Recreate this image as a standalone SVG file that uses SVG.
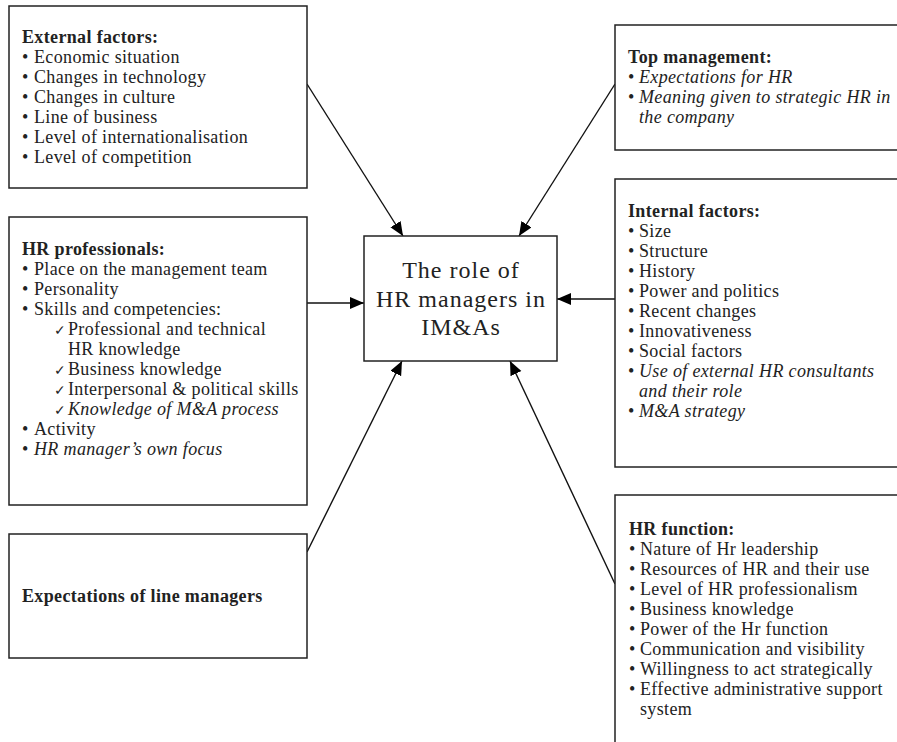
<svg xmlns="http://www.w3.org/2000/svg" width="897" height="742" viewBox="0 0 897 742">
<style>
.box{fill:#fff;stroke:#222;stroke-width:1.5}
.t{font-family:"Liberation Serif","Times New Roman",serif;font-size:18px;fill:#222;letter-spacing:0.35px}
.b{font-weight:bold}
.i{font-style:italic}
.ck{font-size:14px;letter-spacing:0}
.c{font-family:"Liberation Serif","Times New Roman",serif;font-size:24px;fill:#222;letter-spacing:1px;text-anchor:middle}
.ln{stroke:#111;stroke-width:1.4;fill:none;marker-end:url(#ah)}
</style>
<defs>
<marker id="ah" markerUnits="userSpaceOnUse" markerWidth="15" markerHeight="13" refX="14" refY="6" orient="auto">
<path d="M0,0 L14,6 L0,12 z" fill="#000"/>
</marker>
</defs>
<rect width="897" height="742" fill="#fff"/>
<g id="connectors">
<line class="ln" x1="307" y1="84" x2="403" y2="236"/>
<line class="ln" x1="615" y1="84" x2="519" y2="236"/>
<line class="ln" x1="307" y1="303" x2="364" y2="303"/>
<line class="ln" x1="615" y1="299" x2="557" y2="299"/>
<line class="ln" x1="307" y1="552" x2="402" y2="361"/>
<line class="ln" x1="615" y1="584" x2="510" y2="361"/>
</g>
<g id="external">
<rect class="box" x="9" y="6" width="298" height="182"/>
<text class="t b" x="22" y="43">External factors:</text>
<text class="t" y="63"><tspan x="22">•</tspan><tspan x="34">Economic situation</tspan></text>
<text class="t" y="83"><tspan x="22">•</tspan><tspan x="34">Changes in technology</tspan></text>
<text class="t" y="103"><tspan x="22">•</tspan><tspan x="34">Changes in culture</tspan></text>
<text class="t" y="123"><tspan x="22">•</tspan><tspan x="34">Line of business</tspan></text>
<text class="t" y="143"><tspan x="22">•</tspan><tspan x="34">Level of internationalisation</tspan></text>
<text class="t" y="163"><tspan x="22">•</tspan><tspan x="34">Level of competition</tspan></text>
</g>
<g id="top-management">
<rect class="box" x="615" y="25" width="300" height="125"/>
<text class="t b" x="628" y="63">Top management:</text>
<text class="t" y="83"><tspan x="628">•</tspan><tspan x="639" class="i">Expectations for HR</tspan></text>
<text class="t" y="103"><tspan x="628">•</tspan><tspan x="639" class="i">Meaning given to strategic HR in</tspan></text>
<text class="t i" x="639" y="123">the company</text>
</g>
<g id="hr-professionals">
<rect class="box" x="9" y="217" width="298" height="288"/>
<text class="t b" x="22" y="255">HR professionals:</text>
<text class="t" y="275"><tspan x="22">•</tspan><tspan x="34">Place on the management team</tspan></text>
<text class="t" y="295"><tspan x="22">•</tspan><tspan x="34">Personality</tspan></text>
<text class="t" y="315"><tspan x="22">•</tspan><tspan x="34">Skills and competencies:</tspan></text>
<text class="t" y="335"><tspan x="54" class="ck">✓</tspan><tspan x="68">Professional and technical</tspan></text>
<text class="t" x="68" y="355">HR knowledge</text>
<text class="t" y="375"><tspan x="54" class="ck">✓</tspan><tspan x="68">Business knowledge</tspan></text>
<text class="t" y="395"><tspan x="54" class="ck">✓</tspan><tspan x="68">Interpersonal &amp; political skills</tspan></text>
<text class="t" y="415"><tspan x="54" class="ck">✓</tspan><tspan x="68" class="i">Knowledge of M&amp;A process</tspan></text>
<text class="t" y="435"><tspan x="22">•</tspan><tspan x="34">Activity</tspan></text>
<text class="t" y="455"><tspan x="22">•</tspan><tspan x="34" class="i">HR manager’s own focus</tspan></text>
</g>
<g id="internal">
<rect class="box" x="615" y="179" width="300" height="288"/>
<text class="t b" x="628" y="217">Internal factors:</text>
<text class="t" y="237"><tspan x="628">•</tspan><tspan x="639">Size</tspan></text>
<text class="t" y="257"><tspan x="628">•</tspan><tspan x="639">Structure</tspan></text>
<text class="t" y="277"><tspan x="628">•</tspan><tspan x="639">History</tspan></text>
<text class="t" y="297"><tspan x="628">•</tspan><tspan x="639">Power and politics</tspan></text>
<text class="t" y="317"><tspan x="628">•</tspan><tspan x="639">Recent changes</tspan></text>
<text class="t" y="337"><tspan x="628">•</tspan><tspan x="639">Innovativeness</tspan></text>
<text class="t" y="357"><tspan x="628">•</tspan><tspan x="639">Social factors</tspan></text>
<text class="t" y="377"><tspan x="628">•</tspan><tspan x="639" class="i">Use of external HR consultants</tspan></text>
<text class="t i" x="639" y="397">and their role</text>
<text class="t" y="417"><tspan x="628">•</tspan><tspan x="639" class="i">M&amp;A strategy</tspan></text>
</g>
<g id="center">
<rect class="box" x="364" y="236" width="193" height="125"/>
<text class="c" x="461" y="278">The role of</text>
<text class="c" x="461" y="307">HR managers in</text>
<text class="c" x="461" y="335">IM&amp;As</text>
</g>
<g id="line-managers">
<rect class="box" x="9" y="534" width="298" height="124"/>
<text class="t b" x="22" y="602">Expectations of line managers</text>
</g>
<g id="hr-function">
<rect class="box" x="615" y="495" width="300" height="300"/>
<text class="t b" x="629" y="535">HR function:</text>
<text class="t" y="555"><tspan x="629">•</tspan><tspan x="640">Nature of Hr leadership</tspan></text>
<text class="t" y="575"><tspan x="629">•</tspan><tspan x="640">Resources of HR and their use</tspan></text>
<text class="t" y="595"><tspan x="629">•</tspan><tspan x="640">Level of HR professionalism</tspan></text>
<text class="t" y="615"><tspan x="629">•</tspan><tspan x="640">Business knowledge</tspan></text>
<text class="t" y="635"><tspan x="629">•</tspan><tspan x="640">Power of the Hr function</tspan></text>
<text class="t" y="655"><tspan x="629">•</tspan><tspan x="640">Communication and visibility</tspan></text>
<text class="t" y="675"><tspan x="629">•</tspan><tspan x="640">Willingness to act strategically</tspan></text>
<text class="t" y="695"><tspan x="629">•</tspan><tspan x="640">Effective administrative support</tspan></text>
<text class="t" x="640" y="715">system</text>
</g>
</svg>
